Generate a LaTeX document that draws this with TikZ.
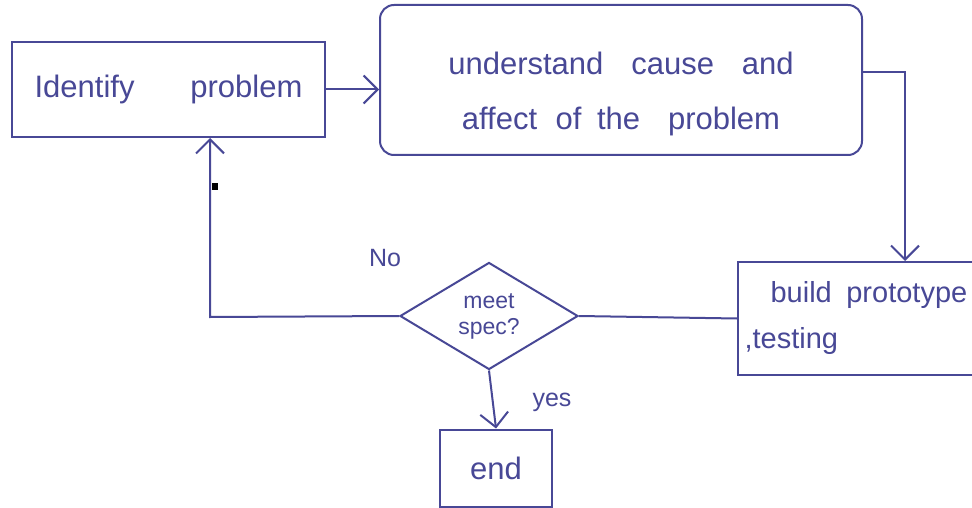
\documentclass[tikz,border=0pt]{standalone}
\usepackage{fontspec}
\setmainfont{Liberation Sans}
\usetikzlibrary{arrows.meta,shapes.geometric}
\definecolor{ink}{RGB}{72,72,150}
\tikzset{
  ink/.style={draw=ink, line width=2pt},
  box/.style={ink, text=ink, inner sep=0pt, font=\fontsize{31}{52}\selectfont},
  txt/.style={text=ink, inner sep=0pt, font=\fontsize{31}{55}\selectfont, align=center},
  arr/.style={ink, -{Straight Barb[length=14pt,width=28pt,line width=2pt]}},
  lbl/.style={text=ink, font=\fontsize{25}{28}\selectfont}
}
\begin{document}
\begin{tikzpicture}[x=1pt,y=-1pt]
\useasboundingbox (0,0) rectangle (972,508);
\fill[white] (0,0) rectangle (972,508);
% nodes
\node[box, minimum width=313pt, minimum height=95pt] (idp) at (168.5,89.5) {Identify\hspace{1.8em}problem};
\node[box, rounded corners=14pt, minimum width=482pt, minimum height=150pt] (und) at (621,80) {};
\node[txt] (undtext) at (621,94)
  {understand\hspace{0.9em}cause\hspace{0.9em}and\\affect\hspace{0.6em}of\hspace{0.5em}the\hspace{0.9em}problem};
\node[box, minimum width=245pt, minimum height=113pt, text width=232pt, align=left,
      font=\fontsize{29}{46}\selectfont] (bld) at (860.5,318.5)
  {\hspace{0.9em}build\hspace{0.5em}prototype\\,testing};
\node[ink, diamond, inner sep=0pt, minimum width=178pt, minimum height=98pt, text=ink,
      font=\fontsize{23}{26}\selectfont, align=center] (dia) at (489,316) {meet\\spec?};
\node[box, minimum width=112pt, minimum height=77pt] (endb) at (496,468) {end};
\node[lbl] (no) at (385,258) {No};
\node[lbl] (yes) at (552,402) {yes};
\fill[black] (212,183) rectangle (218,190);
% connectors
\coordinate (bend) at (905,72);
\coordinate (nocorner) at (210,317);
\draw[arr] (idp.east) -- (idp.east -| und.west);
\draw[arr] (und.east |- bend) -- (bend) -- (bend |- bld.north);
\draw[ink] (bld.west) -- (dia.east);
\draw[arr] (dia.west) -- (nocorner) -- (nocorner |- idp.south);
\draw[arr] (dia.south) -- (endb.north);
\end{tikzpicture}
\end{document}
